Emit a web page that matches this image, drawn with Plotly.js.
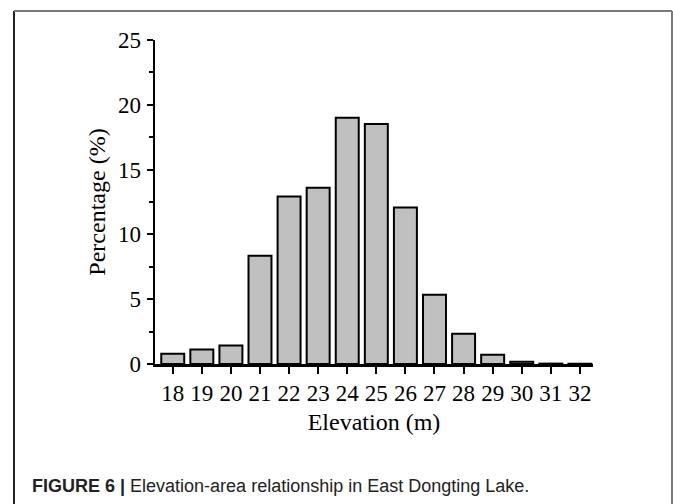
<!DOCTYPE html>
<html>
<head>
<meta charset="utf-8">
<script src="https://cdn.plot.ly/plotly-3.0.1.min.js"></script>
<style>
html,body{margin:0;padding:0;background:#fff;}
#chart{width:673px;height:504px;}
</style>
</head>
<body>
<div id="chart"></div>
<script>
const elevations = [18, 19, 20, 21, 22, 23, 24, 25, 26, 27, 28, 29, 30, 31, 32];
const percentages = [0.8, 1.12, 1.42, 8.35, 12.92, 13.6, 19.0, 18.52, 12.07, 5.35, 2.33, 0.72, 0.17, 0.03, 0.02];
const xTickLabels = elevations.map(String);

const W = 673, H = 504;
const mL = 155, mR = 80, mT = 40, mB = 139.5;
const pw = W - mL - mR, ph = H - mT - mB;
const px = v => (v - mL) / pw;
const py = v => (H - mB - v) / ph;

const trace = {
  type: 'bar',
  x: elevations,
  y: percentages,
  marker: {color: '#c0c0c0', line: {color: '#000', width: 2}},
  width: 0.79,
  hoverinfo: 'x+y'
};

const serif = 'Liberation Serif, Times New Roman, serif';

const layout = {
  width: W, height: H,
  margin: {l: mL, r: mR, t: mT, b: mB, pad: 0},
  paper_bgcolor: '#fff',
  plot_bgcolor: '#fff',
  showlegend: false,
  xaxis: {
    range: [17.39, 32.45],
    tickvals: elevations,
    ticktext: xTickLabels,
    ticks: 'outside', ticklen: 7, tickwidth: 2, tickcolor: '#000',
    showline: true, linecolor: '#000', linewidth: 2.5,
    showgrid: false, zeroline: false,
    tickfont: {family: serif, size: 23, color: '#000'},
    title: {text: 'Elevation (m)', font: {family: serif, size: 24, color: '#000'}, standoff: 8}
  },
  yaxis: {
    range: [0, 25],
    tickvals: [0, 5, 10, 15, 20, 25],
    ticks: 'outside', ticklen: 6, tickwidth: 2, tickcolor: '#000',
    ticklabelstandoff: 1,
    minor: {tickvals: [2.5, 7.5, 12.5, 17.5, 22.5], ticks: 'outside', ticklen: 4, tickwidth: 2, tickcolor: '#000'},
    showline: true, linecolor: '#000', linewidth: 2.5,
    showgrid: false, zeroline: false,
    tickfont: {family: serif, size: 23, color: '#000'},
    title: {text: 'Percentage (%)', font: {family: serif, size: 24, color: '#000'}, standoff: 6}
  },
  shapes: [
    {type: 'line', xref: 'paper', yref: 'paper', x0: px(14), x1: px(14), y0: py(11), y1: py(520), line: {color: '#222', width: 2}},
    {type: 'line', xref: 'paper', yref: 'paper', x0: px(14), x1: px(672), y0: py(11), y1: py(11), line: {color: '#7a7a7a', width: 2}},
    {type: 'line', xref: 'paper', yref: 'paper', x0: px(672), x1: px(672), y0: py(11), y1: py(520), line: {color: '#7a7a7a', width: 2}}
  ],
  annotations: [
    {
      xref: 'paper', yref: 'paper', x: px(30), y: py(487), xanchor: 'left', yanchor: 'middle',
      showarrow: false,
      text: '<b>FIGURE 6 |</b> Elevation-area relationship in East Dongting Lake.',
      font: {family: 'Liberation Sans, Arial, sans-serif', size: 18, color: '#222'}
    }
  ]
};

Plotly.newPlot('chart', [trace], layout, {displayModeBar: false, staticPlot: true});
</script>
</body>
</html>
